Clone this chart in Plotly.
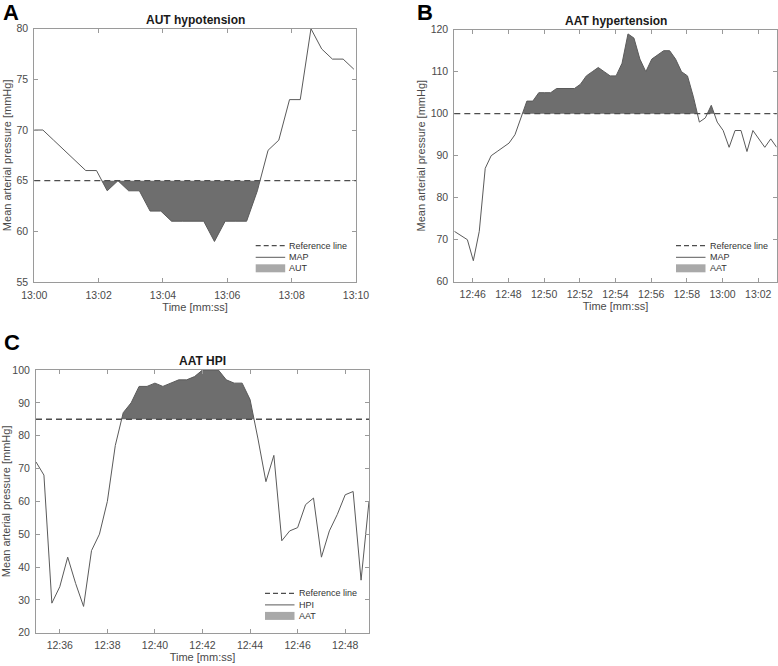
import numpy as np
import pandas as pd
import plotly.graph_objects as go

DATE = "2020-01-01 "
W, H = 778, 666

# ---------------- Panel A: AUT hypotension ----------------
a_time = ["12:59:56", "13:00:16", "13:00:36", "13:00:56", "13:01:16", "13:01:36",
          "13:01:56", "13:02:16", "13:02:36", "13:02:56", "13:03:16", "13:03:36",
          "13:03:56", "13:04:16", "13:04:36", "13:04:56", "13:05:16", "13:05:36",
          "13:05:56", "13:06:16", "13:06:36", "13:06:56", "13:07:16", "13:07:36",
          "13:07:56", "13:08:16", "13:08:36", "13:08:56", "13:09:16", "13:09:36",
          "13:09:56"]
a_map = [70, 70, 69, 68, 67, 66, 66, 64, 65, 64, 64, 62, 62, 61, 61, 61, 61, 59,
         61, 61, 61, 64, 68, 69, 73, 73, 80, 78, 77, 77, 76]
a_ref = 65
a_xrange = ["13:00:00", "13:10:00"]
a_xticks = ["13:00", "13:02", "13:04", "13:06", "13:08", "13:10"]
a_yticks = [55, 60, 65, 70, 75, 80]

# ---------------- Panel B: AAT hypertension ----------------
b_time = ["12:44:58", "12:45:22", "12:45:42", "12:46:02", "12:46:22", "12:46:42",
          "12:47:02", "12:47:22", "12:47:42", "12:48:02", "12:48:22", "12:48:42",
          "12:49:02", "12:49:22", "12:49:42", "12:50:02", "12:50:22", "12:50:42",
          "12:51:02", "12:51:22", "12:51:42", "12:52:02", "12:52:22", "12:52:42",
          "12:53:02", "12:53:22", "12:53:42", "12:54:02", "12:54:22", "12:54:42",
          "12:55:02", "12:55:22", "12:55:42", "12:56:02", "12:56:22", "12:56:42",
          "12:57:02", "12:57:22", "12:57:42", "12:58:02", "12:58:22", "12:58:42",
          "12:59:02", "12:59:22", "12:59:42", "13:00:02", "13:00:22", "13:00:42",
          "13:01:02", "13:01:22", "13:01:42", "13:02:02", "13:02:22", "13:02:42",
          "13:03:02"]
b_map = [72, 71, 70, 65, 72, 87, 90, 91, 92, 93, 95, 99, 103, 103, 105, 105, 105,
         106, 106, 106, 106, 107, 109, 110, 111, 110, 109, 109, 112, 119, 118, 113,
         110, 113, 114, 115, 115, 113, 110, 109, 104, 98, 99, 102, 98, 96, 92, 96,
         96, 91, 96, 94, 92, 94, 92]
b_ref = 100
b_xrange = ["12:44:58", "13:03:02"]
b_xticks = ["12:46", "12:48", "12:50", "12:52", "12:54", "12:56", "12:58", "13:00", "13:02"]
b_yticks = [60, 70, 80, 90, 100, 110, 120]

# ---------------- Panel C: AAT HPI ----------------
c_time = [f"12:{35 + (20 * k) // 60:02d}:{(20 * k) % 60:02d}" for k in range(43)]
c_hpi = [72, 68, 29, 34, 43, 35, 28, 45, 50, 60, 77, 87, 90, 95, 95, 96, 95, 96,
         97, 97, 98, 100, 100, 100, 97, 96, 96, 91, 79, 66, 74, 48, 51, 52, 59, 61,
         43, 51, 56, 62, 63, 36, 60]
c_ref = 85
c_xrange = ["12:35:00", "12:49:00"]
c_xticks = ["12:36", "12:38", "12:40", "12:42", "12:44", "12:46", "12:48"]
c_yticks = [20, 30, 40, 50, 60, 70, 80, 90, 100]

# ---------------- style ----------------
FONT = "Liberation Sans, Arial, Helvetica, sans-serif"
AX = "#9a9a9a"
TXT = "#4a4a4a"
LINE = "#5a5a5a"
FILL = "#6e6e6e"
PATCH = "#a9a9a9"
DASH = "6px,4px"


def ts(t):
    return pd.to_datetime([DATE + s for s in t])


def area_between(times, vals, ref, below):
    t = ts(times)
    t0 = t[0]
    s = np.array((t - t0).total_seconds(), dtype=float)
    y = np.array(vals, dtype=float)
    xs, ys = [s[0]], [y[0]]
    for i in range(len(s) - 1):
        d0, d1 = y[i] - ref, y[i + 1] - ref
        if d0 * d1 < 0:
            f = d0 / (d0 - d1)
            xs.append(s[i] + f * (s[i + 1] - s[i]))
            ys.append(ref)
        xs.append(s[i + 1])
        ys.append(y[i + 1])
    xs = np.array(xs)
    ys = np.array(ys)
    yc = np.minimum(ys, ref) if below else np.maximum(ys, ref)
    tx = t0 + pd.to_timedelta(xs, unit="s")
    return tx, yc


fig = go.Figure()

panels = [
    dict(t=a_time, v=a_map, ref=a_ref, below=True, xa="x", ya="y"),
    dict(t=b_time, v=b_map, ref=b_ref, below=False, xa="x2", ya="y2"),
    dict(t=c_time, v=c_hpi, ref=c_ref, below=False, xa="x3", ya="y3"),
]

for p in panels:
    tx, yc = area_between(p["t"], p["v"], p["ref"], p["below"])
    fig.add_trace(go.Scatter(x=tx, y=[p["ref"]] * len(tx), mode="lines",
                             line=dict(width=0, color=FILL), showlegend=False,
                             hoverinfo="skip", xaxis=p["xa"], yaxis=p["ya"]))
    fig.add_trace(go.Scatter(x=tx, y=yc, mode="lines", fill="tonexty",
                             fillcolor=FILL, line=dict(width=0, color=FILL),
                             showlegend=False, hoverinfo="skip",
                             xaxis=p["xa"], yaxis=p["ya"]))
    fig.add_trace(go.Scatter(x=ts(p["t"]), y=p["v"], mode="lines",
                             line=dict(width=1, color=LINE), showlegend=False,
                             xaxis=p["xa"], yaxis=p["ya"]))
    fig.add_shape(type="line", xref=p["xa"] + " domain", yref=p["ya"],
                  x0=0, x1=1, y0=p["ref"], y1=p["ref"],
                  line=dict(color="#4d4d4d", width=1.3, dash=DASH))


def px_x(x):
    return x / W


def px_y(y):
    return 1 - y / H


# plot-area pixel boxes (left, top, right, bottom)
boxes = {
    "A": (34.3, 28.7, 356.0, 282.0),
    "B": (454.3, 29.7, 776.7, 281.7),
    "C": (36.0, 370.0, 369.0, 632.7),
}


def xdom(b):
    return [px_x(b[0]), px_x(b[2])]


def ydom(b):
    return [px_y(b[3]), px_y(b[1])]


def mk_x(box, anchor, rng, ticks):
    return dict(domain=xdom(box), anchor=anchor, type="date", automargin=False,
                range=[DATE + rng[0], DATE + rng[1]],
                tickvals=[DATE + t + ":00" for t in ticks], ticktext=ticks,
                ticks="inside", ticklen=4, tickcolor=AX, tickwidth=1,
                ticklabelstandoff=3,
                showline=True, linecolor=AX, linewidth=1, mirror="allticks",
                showgrid=False, zeroline=False,
                tickfont=dict(family=FONT, size=10.5, color=TXT),
                title=dict(text="Time [mm:ss]", standoff=3,
                           font=dict(family=FONT, size=11, color=TXT)))


def mk_y(box, anchor, ticks):
    return dict(domain=ydom(box), anchor=anchor, automargin=False,
                range=[ticks[0], ticks[-1]], tickvals=ticks,
                ticks="inside", ticklen=4, tickcolor=AX, tickwidth=1,
                ticklabelstandoff=3,
                showline=True, linecolor=AX, linewidth=1, mirror="allticks",
                showgrid=False, zeroline=False,
                tickfont=dict(family=FONT, size=10.5, color=TXT),
                title=dict(text="Mean arterial pressure [mmHg]", standoff=2,
                           font=dict(family=FONT, size=11, color=TXT)))


fig.update_layout(
    template="none",
    width=W, height=H, margin=dict(l=0, r=0, t=0, b=0, autoexpand=False),
    paper_bgcolor="white", plot_bgcolor="white", showlegend=False,
    font=dict(family=FONT, color=TXT),
    xaxis=mk_x(boxes["A"], "y", a_xrange, a_xticks),
    yaxis=mk_y(boxes["A"], "x", a_yticks),
    xaxis2=mk_x(boxes["B"], "y2", b_xrange, b_xticks),
    yaxis2=mk_y(boxes["B"], "x2", b_yticks),
    xaxis3=mk_x(boxes["C"], "y3", c_xrange, c_xticks),
    yaxis3=mk_y(boxes["C"], "x3", c_yticks),
)

titles = {"A": "AUT hypotension", "B": "AAT hypertension", "C": "AAT HPI"}
letters_pos = {"A": (11, 12), "B": (425, 12), "C": (12, 342)}
legend_labels = {"A": ("Reference line", "MAP", "AUT"),
                 "B": ("Reference line", "MAP", "AAT"),
                 "C": ("Reference line", "HPI", "AAT")}
legend_anchor = {"A": (255.7, 245.7), "B": (676.0, 245.7), "C": (265.0, 593.3)}

for k, b in boxes.items():
    fig.add_annotation(x=px_x((b[0] + b[2]) / 2), y=px_y(b[1]), xref="paper", yref="paper",
                       text="<b>" + titles[k] + "</b>", showarrow=False,
                       xanchor="center", yanchor="bottom",
                       font=dict(family=FONT, size=12, color="#1a1a1a"))
    lx, ly = letters_pos[k]
    fig.add_annotation(x=px_x(lx), y=px_y(ly), xref="paper", yref="paper",
                       text="<b>" + k + "</b>", showarrow=False,
                       xanchor="center", yanchor="middle",
                       font=dict(family=FONT, size=22, color="#000000"))
    # manual legend
    x0, y0 = legend_anchor[k]
    x1 = x0 + 29.5
    rows = [y0, y0 + 11.6, y0 + 22.6]
    fig.add_shape(type="line", xref="paper", yref="paper",
                  x0=px_x(x0), x1=px_x(x1), y0=px_y(rows[0]), y1=px_y(rows[0]),
                  line=dict(color="#4d4d4d", width=1.2, dash="5px,3px"))
    fig.add_shape(type="line", xref="paper", yref="paper",
                  x0=px_x(x0), x1=px_x(x1), y0=px_y(rows[1]), y1=px_y(rows[1]),
                  line=dict(color=LINE, width=1))
    fig.add_shape(type="rect", xref="paper", yref="paper",
                  x0=px_x(x0), x1=px_x(x1), y0=px_y(rows[2] - 4), y1=px_y(rows[2] + 4),
                  fillcolor=PATCH, line=dict(width=0))
    for lab, ry in zip(legend_labels[k], rows):
        fig.add_annotation(x=px_x(x1 + 2), y=px_y(ry), xref="paper", yref="paper",
                           text=lab, showarrow=False, xanchor="left", yanchor="middle",
                           font=dict(family=FONT, size=9, color="#333333"))

fig.write_html("out.html",
               config={"displayModeBar": False},
               post_script="document.body.style.margin='0px';"
                           "document.body.style.overflow='hidden';")
